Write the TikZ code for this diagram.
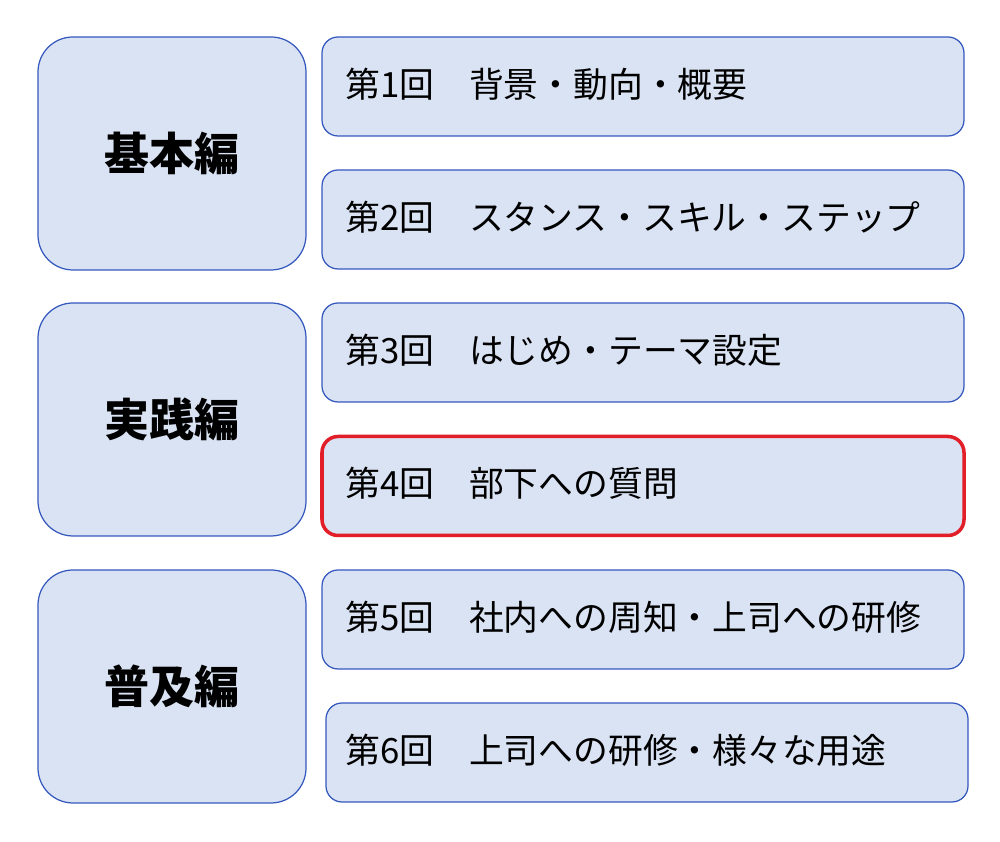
\documentclass[tikz,border=0pt]{standalone}
\usepackage{fontspec}
\setmainfont{Noto Sans CJK JP}
\usepackage{xcolor}
\usepackage{tikz}
\usetikzlibrary{positioning}
\usetikzlibrary{shapes}
\definecolor{boxfill}{RGB}{218,227,243}
\definecolor{boxline}{RGB}{52,88,190}
\definecolor{markred}{RGB}{226,30,40}
\tikzstyle{partbox}=[rectangle,rounded corners=0.7cm,draw=boxline,fill=boxfill,line width=0.7pt,minimum width=5.36cm,minimum height=4.66cm,inner sep=0pt,font=\fontsize{25.6}{30}\selectfont\bfseries]
\tikzstyle{lessonbox}=[rectangle,rounded corners=0.32cm,draw=boxline,fill=boxfill,line width=0.7pt,minimum width=12.84cm,minimum height=1.98cm,inner sep=0pt]
\tikzstyle{current}=[draw=markred,line width=2pt]
\tikzstyle{lessontext}=[anchor=west,inner sep=0pt,yshift=0.05cm,font=\fontsize{19.8}{23}\selectfont]

\begin{document}
\begin{tikzpicture}[scale=1., auto,swap]

  \useasboundingbox (0,0) rectangle (20,16.84);

   % left: the three parts
   \foreach \x/\y/\name/\label in { 3.44/13.77/basic/基本編, 3.44/8.45/practice/実践編, 3.44/3.11/spread/普及編}
          \node[partbox] (\name) at (\x, \y) {\label};

   % right: the six lessons
   \foreach \x/\y/\name/\label in { 12.86/15.11/L1/{第1回　背景・動向・概要}, 12.86/12.45/L2/{第2回　スタンス・スキル・ステップ}, 12.86/9.79/L3/{第3回　はじめ・テーマ設定}, 12.86/4.45/L5/{第5回　社内への周知・上司への研修}, 12.94/1.79/L6/{第6回　上司への研修・様々な用途}}
   {
          \node[lessonbox] (\name) at (\x, \y) {};
          \node[lessontext] (\name-t) at (6.9, \y) {\label};
   }

   % the current lesson
   \node[lessonbox, current] (L4) at (12.86, 7.12) {};
   \node[lessontext] (L4-t) at (6.9, 7.12) {第4回　部下への質問};

\end{tikzpicture}
\end{document}
